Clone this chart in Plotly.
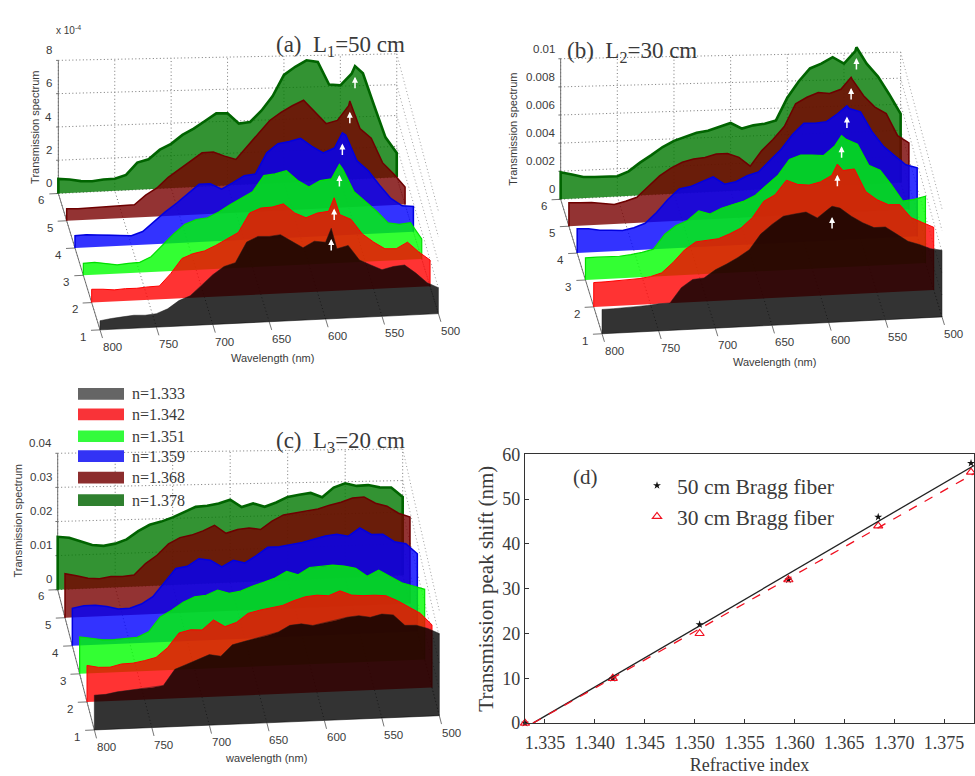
import plotly.graph_objects as go

WL = [800,790,780,770,760,750,740,730,720,710,700,690,680,670,660,650,640,630,620,610,600,590,580,570,560,550,540,530,520,510,500]
ROWS = [1,2,3,4,5,6]
INDEX_LABELS = ["n=1.333","n=1.342","n=1.351","n=1.359","n=1.368","n=1.378"]
# Panel (a): units of 1e-4
A1 = [0.55,0.65,0.72,0.78,0.75,0.81,1.07,1.53,1.79,2.38,2.99,3.45,3.65,4.85,5.16,5.13,5.20,4.77,4.35,4.71,4.62,4.19,4.36,3.45,3.12,2.80,2.96,3.02,2.50,1.89,1.56]
A2 = [0.80,0.77,0.70,0.74,0.73,0.78,0.80,1.51,2.39,2.65,2.78,3.08,3.43,3.79,4.93,5.19,5.22,5.38,4.80,4.48,4.73,4.80,4.57,4.25,3.34,2.82,2.39,2.36,2.72,2.10,1.58]
A3 = [0.72,0.75,0.66,0.53,0.59,0.62,0.92,1.57,2.22,2.77,3.03,3.10,3.41,3.81,4.17,4.53,5.47,5.54,5.70,5.08,4.66,5.01,5.08,5.63,4.24,3.62,3.00,2.28,2.15,2.22,1.21]
A4 = [0.74,0.77,0.72,0.70,0.65,0.58,0.80,1.35,1.91,2.40,2.95,3.47,3.47,3.11,3.47,3.86,3.93,5.17,5.68,5.78,5.94,5.42,5.00,5.26,6.01,4.42,3.80,2.89,2.07,1.59,1.52]
A5 = [0.72,0.69,0.70,0.72,0.73,0.75,0.76,1.31,1.71,2.32,2.78,3.23,3.69,3.71,3.43,3.20,3.95,4.70,5.44,5.90,6.26,6.56,5.80,5.09,5.25,6.10,4.70,4.08,2.58,1.87,1.05]
A6 = [0.88,0.81,0.68,0.64,0.71,0.72,0.92,1.63,1.79,2.34,2.66,3.16,3.51,3.93,4.36,4.33,3.68,3.74,4.39,5.24,6.47,6.93,7.29,7.16,5.76,5.68,6.35,6.34,4.36,2.43,1.46]
A_PEAK_WL = [595,585,573,563,549,537]
A_PEAK_VAL = [5.44,5.60,5.93,6.15,6.38,6.80]
# Panel (b): units of 1e-3
B1 = [1.73,1.74,1.77,1.80,1.85,1.93,1.95,3.00,3.54,3.61,4.15,4.52,4.95,5.46,6.53,7.18,7.72,7.84,7.94,7.48,8.09,8.10,7.48,6.98,6.59,6.60,6.05,5.50,5.23,4.89,4.74]
B2 = [1.73,1.74,1.77,1.80,1.85,1.95,2.18,2.88,3.72,4.26,4.33,4.41,4.72,5.09,5.79,6.91,7.33,8.33,7.99,7.90,8.09,8.51,8.82,8.89,7.24,6.62,6.23,6.19,5.23,4.84,4.46]
B3 = [1.57,1.58,1.56,1.57,1.64,1.76,1.95,2.98,3.56,3.87,4.52,4.25,4.62,4.86,5.05,5.43,6.13,6.78,7.85,8.13,8.09,8.00,8.66,9.08,8.69,7.15,6.76,5.69,4.49,4.57,4.76]
B4 = [1.73,1.69,1.54,1.50,1.45,1.60,1.88,2.61,3.49,4.21,4.33,4.64,4.95,4.38,4.52,4.90,5.13,5.90,6.67,7.67,8.44,8.40,8.47,9.01,9.32,9.05,7.62,6.54,5.81,5.12,4.87]
B5 = [1.66,1.62,1.61,1.50,1.39,1.58,1.82,2.54,3.26,3.77,4.15,4.34,4.41,4.61,4.61,4.30,3.63,4.68,5.45,6.33,7.91,8.33,8.63,8.52,8.78,9.44,8.24,7.39,6.89,5.28,4.73]
B6 = [1.92,1.72,1.51,1.47,1.43,1.44,1.75,2.33,2.82,3.36,3.76,4.02,4.25,4.35,4.59,4.83,4.39,4.58,4.66,4.85,6.43,7.54,8.43,8.73,9.15,8.65,9.50,8.57,7.61,6.30,4.87]
B_PEAK_WL = [597,585,574,562,551,539]
B_PEAK_VAL = [8.26,9.30,9.37,9.53,9.60,9.77]
# Panel (c): units of 1e-3
C1 = [10.2,10.3,10.9,11.2,11.5,11.7,12.2,16.8,18.1,19.4,20.7,20.1,23.3,24.1,24.9,25.5,26.5,28.3,28.6,28.0,28.6,29.2,30.0,30.3,29.7,30.5,30.1,26.9,26.8,25.7,24.1]
C2 = [10.7,10.0,9.9,10.7,10.8,11.4,12.2,14.9,19.1,19.9,19.7,22.5,20.4,21.5,24.0,24.8,25.3,25.9,27.2,28.2,28.5,28.2,29.5,28.1,27.8,27.8,27.5,25.9,23.9,21.9,18.4]
C3 = [10.8,10.3,9.7,9.6,9.7,10.0,11.5,15.7,17.5,19.7,21.2,21.5,22.9,21.8,22.3,23.6,24.6,25.7,27.5,26.4,28.4,28.5,28.8,28.4,27.6,25.1,26.8,24.8,22.8,21.7,20.6]
C4 = [11.0,11.6,11.6,11.1,10.2,10.3,11.4,13.4,17.3,21.4,21.9,24.0,23.4,21.3,23.1,22.2,24.2,26.5,26.5,27.0,27.5,28.3,29.1,29.5,28.8,31.1,29.0,28.9,26.6,25.9,22.8]
C5 = [12.9,12.2,11.3,11.0,11.5,11.4,11.7,14.9,17.2,20.4,22.1,22.7,23.8,25.3,22.8,23.8,24.1,23.5,25.8,27.5,27.9,28.2,28.8,29.8,30.5,31.6,31.8,29.8,28.8,26.6,25.3]
C6 = [15.5,15.1,14.0,12.7,12.3,12.8,13.9,16.2,17.9,18.7,19.8,21.3,22.6,22.8,23.3,24.3,22.0,22.9,21.8,22.9,24.4,24.9,25.3,23.9,26.6,27.7,26.8,26.9,26.1,25.9,23.0]
# Panel (d)
N_D = [1.333,1.3418,1.3505,1.3594,1.3684,1.3777]
SHIFT_50 = [0,10,22,32,46,58]
SHIFT_30 = [0,10,20,32,44,56]
FIT_N = [1.3338,1.378]
FIT_50 = [0,57.5]
FIT_30 = [0,55.7]
X_TICKS_D = [1.335,1.340,1.345,1.350,1.355,1.360,1.365,1.370,1.375]
Y_TICKS_D = [0,10,20,30,40,50,60]
WL_TICKS = [800,750,700,650,600,550,500]

FILLS = ["rgba(0,0,0,0.8)","rgba(255,0,0,0.8)","rgba(0,255,0,0.8)","rgba(0,0,255,0.8)","rgba(120,0,0,0.8)","rgba(0,120,0,0.8)"]
LINES = ["#1a1a1a","#ff0000","#00e000","#0000e0","#6e0000","#006400"]
WIDTHS = [0.5,1,1.2,1.5,1.5,2.6]
LEG_COL = ["#656565","#f93338","#33fb3c","#3333f5","#8c2d2d","#2f802f"]
SANS = "Liberation Sans"; SERIF = "Liberation Serif"; TXT = "#3a3a3a"

PANELS = [
  dict(ox=100.0, oy=328.33, wx=1.128, wy=-0.0556, rx=-8.33, ry=-28.0, hz=17.08,
       series=[A1,A2,A3,A4,A5,A6], pk_wl=A_PEAK_WL, pk_val=A_PEAK_VAL,
       zticks=[0,2,4,6,8], zlabels=["0","2","4","6","8"]),
  dict(ox=602.0, oy=332.33, wx=1.1333, wy=-0.05778, rx=-8.27, ry=-27.6, hz=14.43,
       series=[B1,B2,B3,B4,B5,B6], pk_wl=B_PEAK_WL, pk_val=B_PEAK_VAL,
       zticks=[0,2,4,6,8,10], zlabels=["0","0.002","0.004","0.006","0.008","0.01"]),
  dict(ox=94.33, oy=739.0, wx=1.15, wy=-0.0489, rx=-7.33, ry=-28.8, hz=3.5,
       series=[C1,C2,C3,C4,C5,C6], pk_wl=[], pk_val=[],
       zticks=[0,10,20,30,40], zlabels=["0","0.01","0.02","0.03","0.04"]),
]

def proj(p, w, r, v=0.0, persp=False):
    x = p["ox"] + (800-w)*p["wx"] + (r-1)*p["rx"]
    y = p["oy"] + (800-w)*p["wy"] + (r-1)*p["ry"]
    h = p["hz"]*v
    if persp:
        h *= (1-0.073*(800-w)/300)*(1-0.17*(6-r)/5)
    return x, y-h

fig = go.Figure()
annotations = []; shapes = []
def note(x, y, text, size=11, font=SANS, angle=0, xanchor="center", color=TXT):
    annotations.append(dict(x=x, y=y, xref="x2", yref="y2", text=text, showarrow=False, textangle=angle,
        xanchor=xanchor, yanchor="middle", font=dict(family=font, size=size, color=color)))

def path_trace(xs, ys, color, width, dash="solid"):
    fig.add_trace(go.Scatter(x=xs, y=ys, xaxis="x2", yaxis="y2", mode="lines", showlegend=False, hoverinfo="skip",
        line=dict(color=color, width=width, dash=dash), cliponaxis=False))

for p in PANELS:
    vmax = p["zticks"][-1]
    gx, gy, sx, sy = [], [], [], []
    def seg(a, b):
        gx.extend([a[0], b[0], None]); gy.extend([a[1], b[1], None])
    for w in WL_TICKS:
        seg(proj(p, w, 1), proj(p, w, 6))
        seg(proj(p, w, 6), proj(p, w, 6, vmax, True))
    for v in p["zticks"]:
        seg(proj(p, 800, 6, v, True), proj(p, 500, 6, v, True))
        a = proj(p, 500, 6, v, True); b = proj(p, 500, 1, v, True)
        sx.extend([a[0], b[0], None]); sy.extend([a[1], b[1], None])
    path_trace(gx, gy, "#777777", 1, "1px,2.5px")
    path_trace(sx, sy, "#a0a0a0", 1, "1px,2.5px")
    ax_x, ax_y = [], []
    def seg2(a, b):
        ax_x.extend([a[0], b[0], None]); ax_y.extend([a[1], b[1], None])
    seg2(proj(p, 800, 6), proj(p, 800, 1)); seg2(proj(p, 800, 1), proj(p, 500, 1))
    seg2(proj(p, 800, 6), proj(p, 800, 6, vmax, True))
    for w in WL_TICKS:
        seg2(proj(p, w, 1), proj(p, w, 0.7))
    for r in ROWS:
        seg2(proj(p, 800, r), proj(p, 808, r))
    for v in p["zticks"]:
        seg2(proj(p, 800, 6, v, True), proj(p, 802, 6, v, True))
    path_trace(ax_x, ax_y, "#666666", 0.9)
    for i in range(5, -1, -1):
        r = ROWS[i]; wl = list(WL); vals = list(p["series"][i])
        if p["pk_wl"]:
            pairs = sorted(zip(wl + [p["pk_wl"][i]], vals + [p["pk_val"][i]]), reverse=True)
            wl = [a for a, _ in pairs]; vals = [b for _, b in pairs]
        pts = [proj(p, w, r, v) for w, v in zip(wl, vals)]
        b0 = proj(p, wl[0], r); b1 = proj(p, wl[-1], r)
        line = [b0] + pts + [b1]
        fig.add_trace(go.Scatter(x=[q[0] for q in line], y=[q[1] for q in line], xaxis="x2", yaxis="y2",
            mode="none", fill="toself", fillcolor=FILLS[i], showlegend=False, hoverinfo="skip", cliponaxis=False))
        path_trace([q[0] for q in line], [q[1] for q in line], LINES[i], WIDTHS[i])
        if p["pk_wl"]:
            tip = proj(p, p["pk_wl"][i], r, p["pk_val"][i])
            annotations.append(dict(x=tip[0], y=tip[1]+11, xref="x2", yref="y2", ax=0, ay=13, text="",
                showarrow=True, arrowcolor="white", arrowwidth=1.5, arrowhead=2, arrowsize=0.8))
    for w in WL_TICKS:
        q = proj(p, w, 1); note(q[0]+12, q[1]+17.5, str(w), size=11.5)
    for r in ROWS:
        q = proj(p, 800, r); note(q[0]-17, q[1]+7, str(r), size=11.5)
    for v, lab in zip(p["zticks"], p["zlabels"]):
        q = proj(p, 800, 6, v, True); note(q[0]-4, q[1]-10.5, lab, xanchor="right", size=11.5)

note(272, 357, "Wavelength (nm)"); note(35, 121, "Transmission spectrum", angle=-90)
note(774, 361, "Wavelength (nm)"); note(513, 123, "Transmission spectrum", angle=-90)
note(266, 768, "wavelength (nm)"); note(18, 525, "Transmission spectrum", angle=-90)
note(68, 21, "x 10<sup>-4</sup>", size=10)
note(340, 37, "(a)  L<sub>1</sub>=50 cm", size=23, font=SERIF)
note(632, 43, "(b)  L<sub>2</sub>=30 cm", size=23, font=SERIF)
note(340, 443, "(c)  L<sub>3</sub>=20 cm", size=23, font=SERIF)
note(585, 479, "(d)", size=21, font=SERIF)

LEG_TOP = [388, 409, 431.5, 452, 474, 497]
for lab, col, t in zip(INDEX_LABELS, LEG_COL, LEG_TOP):
    shapes.append(dict(type="rect", xref="x2", yref="y2", x0=78, x1=124, y0=t, y1=t+12, fillcolor=col, line=dict(width=0)))
    note(130, t+6, lab, size=16, font=SERIF, xanchor="left")

fig.add_trace(go.Scatter(x=N_D, y=SHIFT_50, mode="markers", name="50 cm Bragg fiber",
    marker=dict(symbol="star", size=6, color="#111111"), cliponaxis=False))
fig.add_trace(go.Scatter(x=N_D, y=SHIFT_30, mode="markers", name="30 cm Bragg fiber",
    marker=dict(symbol="triangle-up-open", size=8, color="#f01020", line=dict(width=1.2, color="#f01020")), cliponaxis=False))
fig.add_trace(go.Scatter(x=FIT_N, y=FIT_50, mode="lines", showlegend=False, line=dict(color="#222222", width=1.3)))
fig.add_trace(go.Scatter(x=FIT_N, y=FIT_30, mode="lines", showlegend=False, line=dict(color="#f01020", width=1.3, dash="dash")))

axis_d = dict(showgrid=False, zeroline=False, showline=True, mirror=True, linecolor="#333333", linewidth=1.2,
              ticks="inside", ticklen=4, tickcolor="#333333", tickfont=dict(family=SERIF, size=18, color=TXT))
fig.update_layout(
    width=975, height=776, margin=dict(l=0, r=0, t=0, b=0), paper_bgcolor="white", plot_bgcolor="rgba(0,0,0,0)",
    xaxis=dict(domain=[525/975, 974/975], range=[1.333, 1.378], tickvals=X_TICKS_D, ticktext=[f"{v:.3f}" for v in X_TICKS_D],
               ticklabelstandoff=3,
               title=dict(text="Refractive index", font=dict(family=SERIF, size=18, color=TXT), standoff=6), **axis_d),
    yaxis=dict(domain=[44/776, 320/776], range=[0, 60], tickvals=Y_TICKS_D,
               title=dict(text="Transmission peak shift (nm)", font=dict(family=SERIF, size=21, color=TXT), standoff=2), **axis_d),
    xaxis2=dict(domain=[0, 1], range=[0, 975], visible=False, anchor="y2"),
    yaxis2=dict(domain=[0, 1], range=[776, 0], visible=False, anchor="x2"),
    legend=dict(x=637/975, y=1-467/776, xref="paper", yref="paper", bgcolor="rgba(0,0,0,0)",
                font=dict(family=SERIF, size=21.5, color=TXT), xanchor="left", yanchor="top"),
    annotations=annotations, shapes=shapes,
)
fig.write_html("out.html", post_script="document.body.style.margin='0';", config=dict(displayModeBar=False))
